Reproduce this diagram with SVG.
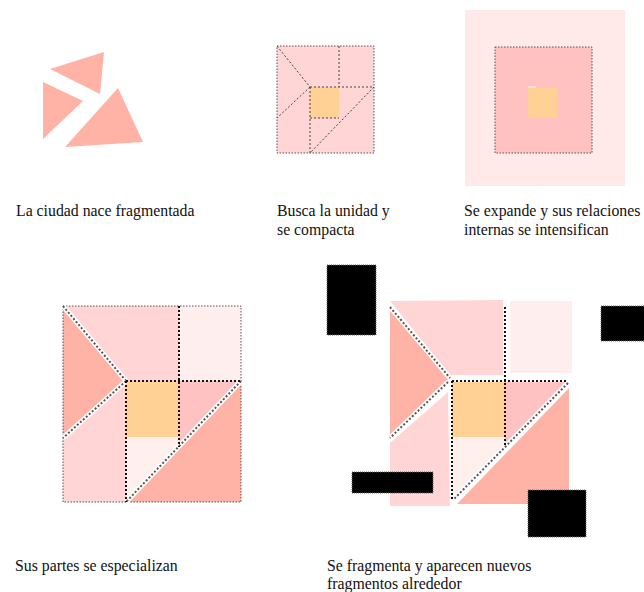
<svg xmlns="http://www.w3.org/2000/svg" width="644" height="592" viewBox="0 0 644 592">
<style>
  .salmon{fill:#ffb3a7}
  .pink{fill:#ffd5d5}
  .rose{fill:#ffc2c2}
  .pale{fill:#ffeeee}
  .paler{fill:#fff0ee}
  .orange{fill:#ffd194}
  .blk{fill:#000000;stroke:#666;stroke-width:1;stroke-dasharray:1,1}
  .frame{fill:none;stroke:#555;stroke-width:1;stroke-dasharray:1.5,1.5}
  .thin{fill:none;stroke:#444;stroke-width:1;stroke-dasharray:2,2}
  .bold{fill:none;stroke:#111;stroke-width:2;stroke-dasharray:2,2}
  .halo{fill:none;stroke:#ffffff;stroke-width:5}
  .diag{fill:none;stroke:#555;stroke-width:2;stroke-dasharray:2,2}
  .lbl{font-family:'Liberation Serif','Times New Roman',serif;font-size:15.8px;fill:#111}
</style>

<g id="panel1">
  <polygon class="salmon" points="50,69 104,52 100,94"/>
  <polygon class="salmon" points="43,82 83,101 43,139"/>
  <polygon class="salmon" points="118,88 143,142 65,147"/>
</g>

<g id="panel2">
  <rect class="pink" x="277" y="46" width="97" height="107"/>
  <rect class="orange" x="310" y="87" width="29" height="31"/>
  <g class="thin">
    <line x1="339" y1="46" x2="339" y2="87"/>
    <line x1="310" y1="87" x2="374" y2="87"/>
    <line x1="310" y1="87" x2="310" y2="153"/>
    <line x1="310" y1="118" x2="339" y2="118"/>
    <line x1="277" y1="46" x2="310" y2="87"/>
    <line x1="310" y1="87" x2="277" y2="118"/>
    <line x1="374" y1="87" x2="310" y2="153"/>
  </g>
  <rect class="frame" x="277" y="46" width="97" height="107"/>
</g>

<g id="panel3">
  <rect fill="#ffe9e9" x="465" y="10" width="160" height="176"/>
  <rect fill="#ffc2c0" x="495" y="47" width="97" height="106"/>
  <rect class="frame" x="495" y="47" width="97" height="106"/>
  <rect class="orange" x="528" y="88" width="29" height="30"/>
  <rect fill="#ffffff" x="528" y="86.5" width="8" height="1"/>
</g>

<g id="panel4">
  <polygon class="pink" points="63,306 179,306 179,381 126,381"/>
  <rect class="pale" x="179" y="306" width="62" height="75"/>
  <polygon class="salmon" points="63,306 126,381 63,438"/>
  <polygon class="pink" points="63,438 126,381 126,502 63,502"/>
  <rect class="orange" x="126" y="381" width="53" height="56"/>
  <polygon class="paler" points="126,437 179,437 179,447 126,502"/>
  <polygon class="rose" points="179,381 241,381 179,447"/>
  <polygon class="salmon" points="241,381 241,502 126,502"/>
  <rect class="frame" x="63" y="306" width="178" height="196"/>
  <g>
    <line class="halo" x1="63" y1="306" x2="126" y2="381"/>
    <line class="diag" x1="63" y1="306" x2="126" y2="381"/>
    <line class="halo" x1="126" y1="381" x2="63" y2="438"/>
    <line class="diag" x1="126" y1="381" x2="63" y2="438"/>
    <line class="halo" x1="241" y1="381" x2="126" y2="502"/>
    <line class="diag" x1="241" y1="381" x2="126" y2="502"/>
  </g>
  <g class="bold">
    <line x1="179" y1="306" x2="179" y2="447"/>
    <line x1="126" y1="381" x2="241" y2="381"/>
    <line x1="126" y1="381" x2="126" y2="502"/>
  </g>
</g>

<g id="panel5">
  <rect class="blk" x="327" y="265" width="49" height="70"/>
  <rect class="blk" x="601" y="306" width="44" height="35"/>
  <polygon class="pink" points="390,301 503,300 503,375 450,375"/>
  <rect class="pale" x="510" y="301" width="62" height="72"/>
  <polygon class="salmon" points="390,308 448,380 390,438"/>
  <polygon class="pink" points="390,443 448,392 450,506 390,506"/>
  <rect class="orange" x="452" y="382" width="53" height="55"/>
  <polygon class="paler" points="452,437 505,437 505,447 452,500"/>
  <polygon class="rose" points="505,382 568,382 505,447"/>
  <polygon class="salmon" points="569,388 569,504 457,504"/>
  <g>
    <line class="halo" x1="390" y1="307" x2="450" y2="378"/>
    <line class="diag" x1="390" y1="307" x2="450" y2="378"/>
    <line class="halo" x1="448" y1="382" x2="390" y2="438"/>
    <line class="diag" x1="448" y1="382" x2="390" y2="438"/>
    <line class="halo" x1="568" y1="383" x2="453" y2="500"/>
    <line class="diag" x1="568" y1="383" x2="453" y2="500"/>
  </g>
  <g class="bold">
    <line x1="505" y1="307" x2="505" y2="447"/>
    <line x1="452" y1="381" x2="568" y2="381"/>
    <line x1="452" y1="381" x2="452" y2="500"/>
  </g>
  <rect class="blk" x="352" y="472" width="81" height="21"/>
  <rect class="blk" x="528" y="490" width="58" height="47"/>
</g>

<g id="labels">
  <text class="lbl" x="16" y="216">La ciudad nace fragmentada</text>
  <text class="lbl" x="277" y="216">Busca la unidad y</text>
  <text class="lbl" x="277" y="235">se compacta</text>
  <text class="lbl" x="464" y="216">Se expande y sus relaciones</text>
  <text class="lbl" x="464" y="235">internas se intensifican</text>
  <text class="lbl" x="15" y="571">Sus partes se especializan</text>
  <text class="lbl" x="327" y="571">Se fragmenta y aparecen nuevos</text>
  <text class="lbl" x="327" y="589">fragmentos alrededor</text>
</g>
</svg>
